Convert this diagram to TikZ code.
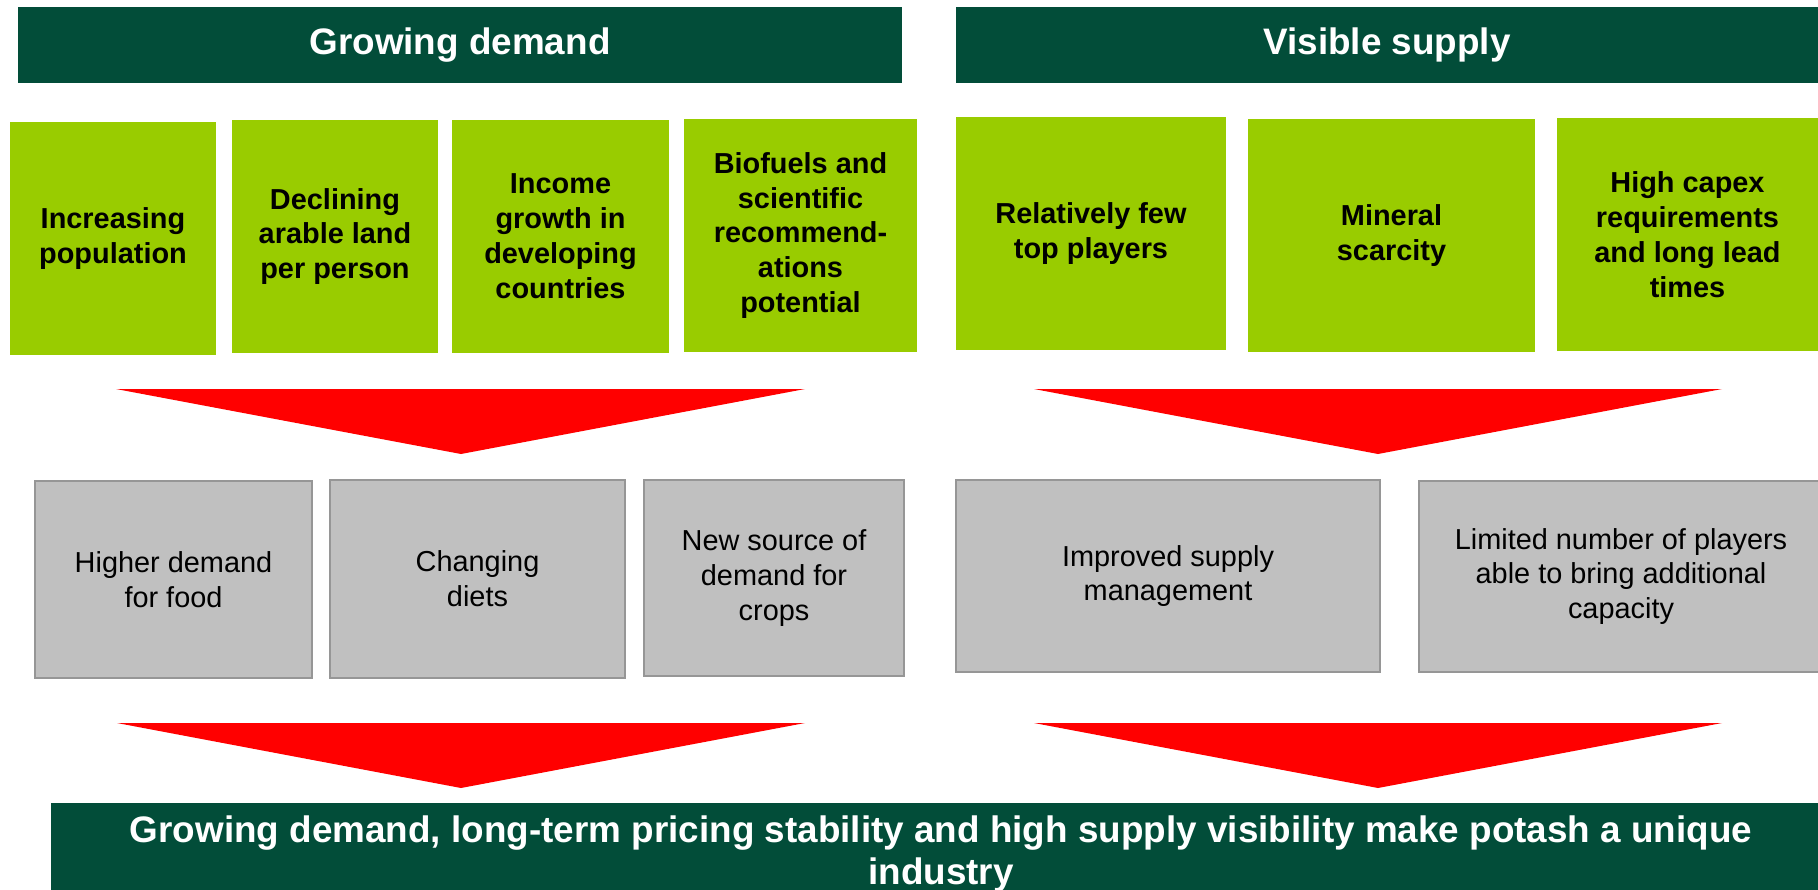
\documentclass[tikz,border=0pt]{standalone}
\usepackage{fontspec}
\setmainfont{Liberation Sans}
\definecolor{dkgreen}{RGB}{2,77,57}
\definecolor{ltgreen}{RGB}{153,204,0}
\definecolor{boxgray}{RGB}{192,192,192}
\definecolor{edgegray}{RGB}{150,150,150}
\definecolor{arrowred}{RGB}{255,0,0}
\tikzset{
  header/.style={fill=dkgreen, draw=none, inner sep=0pt, text=white, align=center,
    font=\fontsize{37}{44}\selectfont\bfseries},
  greenbox/.style={fill=ltgreen, draw=none, inner sep=0pt, minimum height=233bp, align=center,
    font=\fontsize{29}{35}\selectfont\bfseries},
  graybox/.style={fill=boxgray, draw=edgegray, line width=2bp, inner sep=0pt, align=center,
    font=\fontsize{29}{35}\selectfont},
  banner/.style={fill=dkgreen, draw=none, inner sep=0pt, text=white, align=center,
    font=\fontsize{37}{42}\selectfont\bfseries},
  redtri/.style={fill=arrowred, draw=none}
}
\begin{document}
\begin{tikzpicture}[x=1bp,y=-1bp]
\useasboundingbox (0,0) rectangle (1818,890);
% headers
\node[header, minimum width=884bp, minimum height=76bp] (h1) at (460,45) {Growing demand};
\node[header, minimum width=862bp, minimum height=76bp] (h2) at (1387,45) {Visible supply};
% green boxes
\node[greenbox, minimum width=206bp] (g1) at (113,238.5) {Increasing\\population};
\node[greenbox, minimum width=206bp] (g2) at (335,236.5) {Declining\\arable land\\per person};
\node[greenbox, minimum width=217bp] (g3) at (560.5,236.5) {Income\\growth in\\developing\\countries};
\node[greenbox, minimum width=233bp] (g4) at (800.5,235.5) {Biofuels and\\scientific\\recommend-\\ations\\potential};
\node[greenbox, minimum width=270bp] (g5) at (1091,233.5) {Relatively few\\top players};
\node[greenbox, minimum width=287bp] (g6) at (1391.5,235.5) {Mineral\\scarcity};
\node[greenbox, minimum width=261bp] (g7) at (1687.5,234.5) {High capex\\requirements\\and long lead\\times};
% red triangles
\coordinate (t1a) at (116,389); \coordinate (t1b) at (805,389); \coordinate (t1c) at (461,454);
\coordinate (t2a) at (1034,389); \coordinate (t2b) at (1722,389); \coordinate (t2c) at (1378,454);
\coordinate (t3a) at (117,723); \coordinate (t3b) at (805,723); \coordinate (t3c) at (461,788);
\coordinate (t4a) at (1034,723); \coordinate (t4b) at (1722,723); \coordinate (t4c) at (1378,788);
\fill[redtri] (t1a) -- (t1b) -- (t1c) -- cycle;
\fill[redtri] (t2a) -- (t2b) -- (t2c) -- cycle;
\fill[redtri] (t3a) -- (t3b) -- (t3c) -- cycle;
\fill[redtri] (t4a) -- (t4b) -- (t4c) -- cycle;
% gray boxes
\node[graybox, minimum width=277bp, minimum height=197bp] (r1) at (173.5,579.5) {Higher demand\\for food};
\node[graybox, minimum width=295bp, minimum height=198bp] (r2) at (477.5,579) {Changing\\diets};
\node[graybox, minimum width=260bp, minimum height=196bp] (r3) at (774,578) {New source of\\demand for\\crops};
\node[graybox, minimum width=424bp, minimum height=192bp] (r4) at (1168,576) {Improved supply\\management};
\node[graybox, minimum width=404bp, minimum height=191bp] (r5) at (1621,576.5) {Limited number of players\\able to bring additional\\capacity};
% bottom banner
\node[banner, minimum width=1767bp, minimum height=95bp] (b) at (934.5,850.5) {};
\node[banner, fill=none] (bt) at (941,854) {Growing demand, long-term pricing stability and high supply visibility make potash a unique\\industry};
\end{tikzpicture}
\end{document}
